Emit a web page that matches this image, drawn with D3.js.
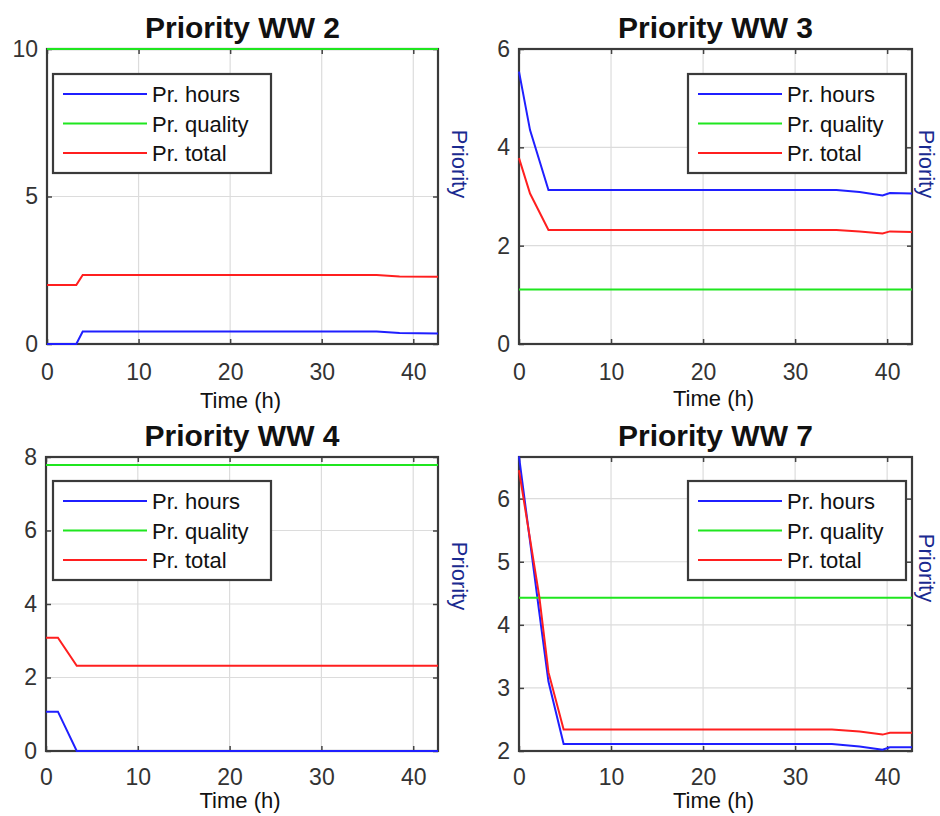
<!DOCTYPE html>
<html lang="en">
<head>
<meta charset="UTF-8">
<title>Priority WW</title>
<script src="https://d3js.org/d3.v7.min.js"></script>
<style>
  body { margin: 0; background: #fff; }
  text { font-family: "Liberation Sans", Arial, sans-serif; }
</style>
</head>
<body>
<script>
// series labels and colours
const seriesNames = ["Pr. hours", "Pr. quality", "Pr. total"];
const seriesColors = ["#1f1fff", "#1fe61f", "#ff1f1f"];
const xTicks = [0, 10, 20, 30, 40];

// WW 2
const ww2Time    = [0, 3.2, 3.9, 36, 38.5, 42.7];
const ww2Hours   = [0, 0, 0.42, 0.42, 0.37, 0.36];
const ww2Quality = [10, 10, 10, 10, 10, 10];
const ww2Total   = [2.0, 2.0, 2.34, 2.34, 2.29, 2.28];

// WW 3
const ww3Time    = [0, 1.2, 3.2, 34.5, 37, 39.5, 40.3, 42.7];
const ww3Hours   = [5.54, 4.35, 3.13, 3.13, 3.09, 3.02, 3.07, 3.06];
const ww3Quality = [1.11, 1.11, 1.11, 1.11, 1.11, 1.11, 1.11, 1.11];
const ww3Total   = [3.78, 3.06, 2.32, 2.32, 2.29, 2.25, 2.29, 2.28];

// WW 4
const ww4Time    = [0, 1.3, 3.35, 42.7];
const ww4Hours   = [1.07, 1.07, 0, 0];
const ww4Quality = [7.78, 7.78, 7.78, 7.78];
const ww4Total   = [3.08, 3.08, 2.32, 2.32];

// WW 7
const ww7Time    = [0, 2.2, 3.2, 4.85, 34, 37, 39.5, 40.3, 42.7];
const ww7Hours   = [6.67, 4.2, 3.1, 2.11, 2.11, 2.07, 2.02, 2.06, 2.06];
const ww7Quality = [4.43, 4.43, 4.43, 4.43, 4.43, 4.43, 4.43, 4.43, 4.43];
const ww7Total   = [6.45, 4.45, 3.25, 2.34, 2.34, 2.31, 2.26, 2.29, 2.29];

const panels = [
  { title: "Priority WW 2", time: ww2Time, series: [ww2Hours, ww2Quality, ww2Total],
    left: 47, right: 438, top: 49, bottom: 344, yDomain: [0, 10], yTicks: [0, 5, 10],
    legend: { x: 53, y: 74, w: 218, h: 99 }, labelX: 452, labelY: 164, xlabY: 408, pad: 20 },
  { title: "Priority WW 3", time: ww3Time, series: [ww3Hours, ww3Quality, ww3Total],
    left: 519, right: 912, top: 49, bottom: 344, yDomain: [0, 6], yTicks: [0, 2, 4, 6],
    legend: { x: 688, y: 74, w: 218, h: 99 }, labelX: 919, labelY: 164, xlabY: 406, pad: 20 },
  { title: "Priority WW 4", time: ww4Time, series: [ww4Hours, ww4Quality, ww4Total],
    left: 46, right: 438, top: 457, bottom: 751, yDomain: [0, 8], yTicks: [0, 2, 4, 6, 8],
    legend: { x: 53, y: 481, w: 218, h: 99 }, labelX: 452, labelY: 576, xlabY: 808, pad: 18 },
  { title: "Priority WW 7", time: ww7Time, series: [ww7Hours, ww7Quality, ww7Total],
    left: 519, right: 912, top: 457, bottom: 751, yDomain: [2, 6.66], yTicks: [2, 3, 4, 5, 6],
    legend: { x: 688, y: 481, w: 218, h: 99 }, labelX: 919, labelY: 568, xlabY: 808, pad: 18 }
];

const svg = d3.select("body").append("svg")
  .attr("width", 940)
  .attr("height", 816);

panels.forEach(p => {
  const x = d3.scaleLinear().domain([0, 42.7]).range([p.left, p.right]);
  const y = d3.scaleLinear().domain(p.yDomain).range([p.bottom, p.top]);
  const g = svg.append("g");

  // grid
  g.selectAll(".gx").data(xTicks).join("line")
    .attr("x1", d => x(d)).attr("x2", d => x(d))
    .attr("y1", p.top).attr("y2", p.bottom)
    .attr("stroke", "#dcdcdc").attr("stroke-width", 1.2);
  g.selectAll(".gy").data(p.yTicks).join("line")
    .attr("x1", p.left).attr("x2", p.right)
    .attr("y1", d => y(d)).attr("y2", d => y(d))
    .attr("stroke", "#dcdcdc").attr("stroke-width", 1.2);

  // axes (ticks inside, box on)
  const fmt = d3.format("d");
  const xb = d3.axisBottom(x).tickValues(xTicks).tickSize(-5).tickPadding(p.pad).tickFormat(fmt);
  const yl = d3.axisLeft(y).tickValues(p.yTicks).tickSize(-5).tickPadding(9).tickFormat(fmt);
  const xt = d3.axisTop(x).tickValues(xTicks).tickSize(-5).tickFormat("");
  const yr = d3.axisRight(y).tickValues(p.yTicks).tickSize(-5).tickFormat("");
  [
    g.append("g").attr("transform", `translate(0,${p.bottom})`).call(xb),
    g.append("g").attr("transform", `translate(${p.left},0)`).call(yl),
    g.append("g").attr("transform", `translate(0,${p.top})`).call(xt),
    g.append("g").attr("transform", `translate(${p.right},0)`).call(yr)
  ].forEach(a => {
    a.select(".domain").remove();
    a.selectAll(".tick line").attr("stroke", "#444").attr("stroke-width", 1.5);
    a.selectAll(".tick text")
      .attr("font-size", 23)
      .attr("fill", "#333")
      .style("font-family", "'Liberation Sans', Arial, sans-serif");
  });

  // frame
  g.append("rect")
    .attr("x", p.left).attr("y", p.top)
    .attr("width", p.right - p.left).attr("height", p.bottom - p.top)
    .attr("fill", "none").attr("stroke", "#3a3a3a").attr("stroke-width", 2.2);

  // series lines, on top of the frame
  const line = d3.line()
    .x((d, i) => x(p.time[i]))
    .y(d => y(d));
  p.series.forEach((vals, k) => {
    g.append("path")
      .attr("d", line(vals))
      .attr("fill", "none")
      .attr("stroke", seriesColors[k])
      .attr("stroke-width", 2);
  });

  // title
  g.append("text")
    .attr("x", (p.left + p.right) / 2).attr("y", p.top - 11)
    .attr("text-anchor", "middle")
    .attr("font-size", 30).attr("font-weight", "bold")
    .attr("fill", "#111")
    .text(p.title);

  // x label
  g.append("text")
    .attr("x", (p.left + p.right) / 2 - 2).attr("y", p.xlabY)
    .attr("text-anchor", "middle")
    .attr("font-size", 22).attr("fill", "#111")
    .text("Time (h)");

  // y label on the right, rotated
  g.append("text")
    .attr("transform", `translate(${p.labelX},${p.labelY}) rotate(90)`)
    .attr("text-anchor", "middle")
    .attr("font-size", 22).attr("fill", "#1a2a90")
    .text("Priority");

  // legend
  const L = p.legend;
  const lg = g.append("g");
  lg.append("rect")
    .attr("x", L.x).attr("y", L.y).attr("width", L.w).attr("height", L.h)
    .attr("fill", "#fff").attr("stroke", "#3a3a3a").attr("stroke-width", 2.2);
  seriesNames.forEach((name, k) => {
    const ry = L.y + 20 + k * 29.5;
    lg.append("line")
      .attr("x1", L.x + 10).attr("x2", L.x + 94)
      .attr("y1", ry).attr("y2", ry)
      .attr("stroke", seriesColors[k]).attr("stroke-width", 2);
    lg.append("text")
      .attr("x", L.x + 99).attr("y", ry + 8)
      .attr("font-size", 22).attr("fill", "#111")
      .text(name);
  });
});
</script>
</body>
</html>
